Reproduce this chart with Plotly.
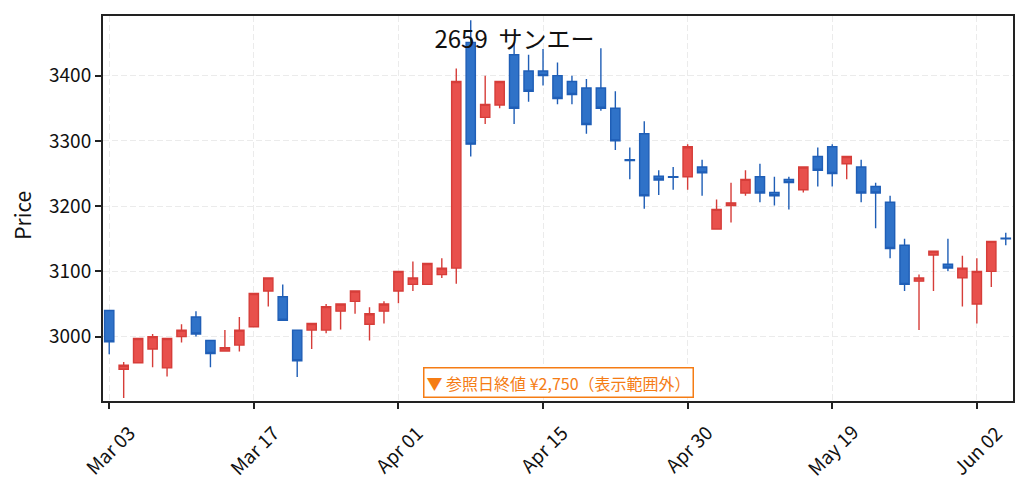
import plotly.graph_objects as go

# trading days (one day in early May is absent from the source data)
dates = [
    "2025-03-03", "2025-03-04", "2025-03-05", "2025-03-06", "2025-03-07",
    "2025-03-10", "2025-03-11", "2025-03-12", "2025-03-13", "2025-03-14",
    "2025-03-17", "2025-03-18", "2025-03-19", "2025-03-21", "2025-03-24",
    "2025-03-25", "2025-03-26", "2025-03-27", "2025-03-28", "2025-03-31",
    "2025-04-01", "2025-04-02", "2025-04-03", "2025-04-04", "2025-04-07",
    "2025-04-08", "2025-04-09", "2025-04-10", "2025-04-11", "2025-04-14",
    "2025-04-15", "2025-04-16", "2025-04-17", "2025-04-18", "2025-04-21",
    "2025-04-22", "2025-04-23", "2025-04-24", "2025-04-25", "2025-04-28",
    "2025-04-30", "2025-05-01", "2025-05-07", "2025-05-08", "2025-05-09",
    "2025-05-12", "2025-05-13", "2025-05-14", "2025-05-15", "2025-05-16",
    "2025-05-19", "2025-05-20", "2025-05-21", "2025-05-22", "2025-05-23",
    "2025-05-26", "2025-05-27", "2025-05-28", "2025-05-29", "2025-05-30",
    "2025-06-02", "2025-06-03", "2025-06-04",
]

opens = [3040, 2950, 2960, 2981, 2952, 3000, 3030, 2994, 2978, 2987,
         3015, 3070, 3061, 3010, 3010, 3010, 3039, 3054, 3019, 3039,
         3070, 3080, 3080, 3095, 3105, 3451, 3336, 3355, 3432, 3407,
         3407, 3400, 3391, 3381, 3381, 3350, 3271, 3311, 3246, 3245,
         3245, 3260, 3165, 3201, 3220, 3245, 3221, 3241, 3225, 3276,
         3291, 3265, 3260, 3230, 3206, 3140, 3085, 3125, 3111, 3090,
         3050, 3100, 3151]
highs = [3040, 2961, 2997, 3004, 2997, 3019, 3039, 2994, 3010, 3030,
         3066, 3090, 3080, 3010, 3020, 3050, 3050, 3070, 3045, 3054,
         3100, 3115, 3112, 3120, 3411, 3485, 3400, 3391, 3450, 3432,
         3441, 3420, 3400, 3395, 3442, 3376, 3290, 3330, 3255, 3260,
         3295, 3271, 3210, 3236, 3255, 3265, 3245, 3245, 3260, 3290,
         3295, 3276, 3271, 3236, 3216, 3150, 3095, 3131, 3150, 3124,
         3120, 3146, 3159]
lows = [2973, 2906, 2960, 2953, 2939, 2991, 3000, 2953, 2978, 2977,
        3015, 3046, 3025, 2938, 2981, 3005, 3011, 3035, 2994, 3020,
        3051, 3070, 3080, 3090, 3081, 3276, 3326, 3350, 3326, 3360,
        3385, 3356, 3356, 3311, 3346, 3286, 3241, 3196, 3217, 3225,
        3225, 3216, 3165, 3175, 3216, 3206, 3201, 3195, 3221, 3230,
        3230, 3241, 3206, 3166, 3120, 3070, 3010, 3070, 3100, 3046,
        3020, 3076, 3140]
closes = [2992, 2956, 2997, 3000, 2997, 3010, 3004, 2974, 2983, 3010,
          3066, 3090, 3025, 2963, 3020, 3046, 3050, 3070, 3035, 3050,
          3100, 3090, 3112, 3105, 3391, 3295, 3356, 3391, 3350, 3376,
          3400, 3365, 3371, 3325, 3350, 3300, 3270, 3216, 3240, 3244,
          3291, 3251, 3195, 3205, 3241, 3220, 3216, 3236, 3260, 3255,
          3250, 3276, 3220, 3220, 3135, 3080, 3090, 3131, 3105, 3105,
          3100, 3146, 3150]

tick_idx = [0, 10, 20, 30, 40, 50, 60]
tick_labels = ["Mar 03", "Mar 17", "Apr 01", "Apr 15", "Apr 30", "May 19", "Jun 02"]
y_ticks = [3000, 3100, 3200, 3300, 3400]

title_text = "2659\u00a0\u00a0サンエー"
note_text = "▼ 参照日終値 ¥2,750（表示範囲外）"

font = "Noto Sans CJK JP, Noto Sans, sans-serif"
x = list(range(len(dates)))

fig = go.Figure()
fig.add_trace(go.Candlestick(
    x=x, open=opens, high=highs, low=lows, close=closes,
    increasing=dict(fillcolor="#e8504c", line=dict(color="#d63d39", width=1.4)),
    decreasing=dict(fillcolor="#2f72c8", line=dict(color="#1f5eb6", width=1.4)),
    whiskerwidth=0,
    hoverinfo="skip",
    showlegend=False,
))

axis_common = dict(
    showline=True, linecolor="#222222", linewidth=2, mirror=True,
    ticks="outside", ticklen=6, tickwidth=1.5, tickcolor="#222222",
    showgrid=True, gridcolor="#ebebeb", gridwidth=1.3, griddash="6px,3px",
    zeroline=False,
    tickfont=dict(size=19, color="#111111", family=font),
)

# rotated date labels centred under their ticks (matplotlib style)
annotations = []
for i, lab in zip(tick_idx, tick_labels):
    annotations.append(dict(
        text=lab, x=i, xref="x", y=0, yref="paper", yshift=-15,
        xanchor="center", yanchor="top", textangle=-45, showarrow=False,
        font=dict(size=19, color="#111111", family=font),
    ))
annotations.append(dict(
    text="Price", xref="paper", x=0, xshift=-81, yref="paper", y=0.481,
    xanchor="center", yanchor="middle", textangle=-90, showarrow=False,
    font=dict(size=21, color="#111111", family=font),
))
annotations.append(dict(
    text=note_text, xref="paper", yref="paper", x=0.5, y=0.048,
    xanchor="center", yanchor="middle", showarrow=False,
    font=dict(size=16, color="#f57c14", family=font),
    bgcolor="white", bordercolor="#f57c14", borderwidth=1.5, borderpad=2,
))

# the page body has an 8px margin, so the figure is sized to fit inside it
fig.update_layout(
    width=1013, height=475,
    margin=dict(l=95, r=7, t=6, b=82),
    paper_bgcolor="white", plot_bgcolor="white",
    font=dict(family=font, color="#111111"),
    boxgap=0.36, boxgroupgap=0,
    title=dict(text=title_text, x=0.5, xref="container", xanchor="center",
               y=1 - 32 / 475, yref="container", yanchor="middle",
               font=dict(size=24, color="#111111", family=font)),
    xaxis=dict(axis_common, range=[-0.43, 62.5], tickmode="array",
               tickvals=tick_idx, showticklabels=False,
               rangeslider=dict(visible=False)),
    yaxis=dict(axis_common, range=[2901.3, 3491.4], tickmode="array",
               tickvals=y_ticks),
    annotations=annotations,
)

fig.write_html("out.html")
